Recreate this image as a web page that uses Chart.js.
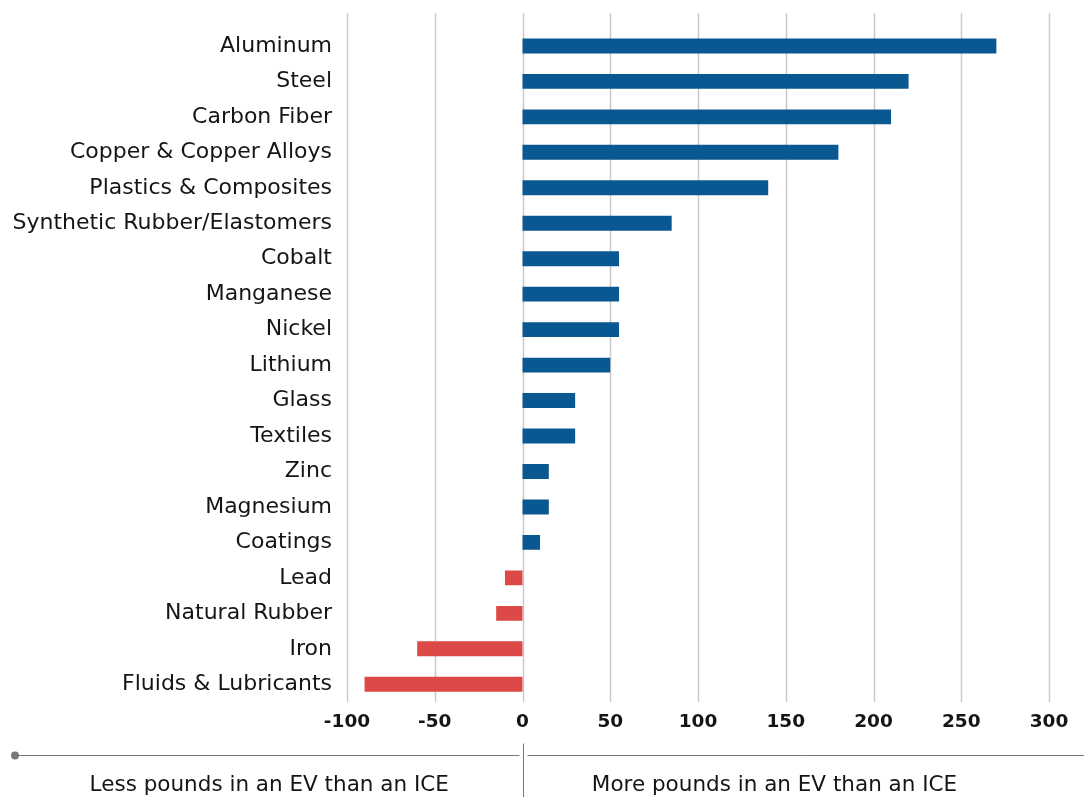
<!DOCTYPE html>
<html>
<head>
<meta charset="utf-8">
<script src="https://cdn.jsdelivr.net/npm/chart.js@4"></script>
<style>
  html, body { margin: 0; padding: 0; background: #fff; }
  #wrap { width: 1084px; height: 797px; }
</style>
</head>
<body>
<div id="wrap"><canvas id="chart" width="1084" height="797"></canvas></div>
<script>
const categories = [
    'Aluminum', 'Steel', 'Carbon Fiber', 'Copper & Copper Alloys', 'Plastics & Composites',
    'Synthetic Rubber/Elastomers', 'Cobalt', 'Manganese', 'Nickel', 'Lithium', 'Glass',
    'Textiles', 'Zinc', 'Magnesium', 'Coatings', 'Lead', 'Natural Rubber', 'Iron',
    'Fluids & Lubricants'
];
const poundsDiff = [270, 220, 210, 180, 140, 85, 55, 55, 55, 50, 30, 30, 15, 15, 10, -10, -15, -60, -90];
const xTicks = [-100, -50, 0, 50, 100, 150, 200, 250, 300];
const sideLabels = ['Less pounds in an EV than an ICE', 'More pounds in an EV than an ICE'];

const COLORS = {
    more: 'rgb(10, 88, 145)',
    less: 'rgb(220, 73, 71)',
    grid: '#c9c9c9',
    rule: '#777777',
    text: '#151515'
};
const FONT = '"DejaVu Sans", sans-serif';

// vertical grid lines, drawn a bit above the plot like the original
const gridPlugin = {
    id: 'tallGrid',
    beforeDatasetsDraw(chart) {
        const {ctx, chartArea, scales: {x}} = chart;
        ctx.save();
        ctx.strokeStyle = COLORS.grid;
        ctx.lineWidth = 1.5;
        for (const v of xTicks) {
            const px = Math.round(x.getPixelForValue(v)) + 0.5;
            ctx.beginPath();
            ctx.moveTo(px, chartArea.top - 15);
            ctx.lineTo(px, chartArea.bottom);
            ctx.stroke();
        }
        ctx.restore();
    }
};

// rule + labels under the axis
const sidesPlugin = {
    id: 'sides',
    afterDraw(chart) {
        const {ctx, chartArea, scales: {x}} = chart;
        const zero = Math.round(x.getPixelForValue(0)) + 0.5;
        const ruleY = chartArea.bottom + 53.5;
        ctx.save();
        ctx.strokeStyle = COLORS.rule;
        ctx.fillStyle = COLORS.rule;
        ctx.lineWidth = 1;
        ctx.beginPath();
        ctx.moveTo(15, ruleY);
        ctx.lineTo(zero - 4, ruleY);
        ctx.moveTo(zero + 4, ruleY);
        ctx.lineTo(chart.width, ruleY);
        ctx.moveTo(zero, ruleY - 12);
        ctx.lineTo(zero, chart.height);
        ctx.stroke();
        ctx.beginPath();
        ctx.arc(15, ruleY, 4, 0, Math.PI * 2);
        ctx.fill();

        ctx.fillStyle = COLORS.text;
        ctx.font = '21.5px ' + FONT;
        ctx.textAlign = 'center';
        ctx.textBaseline = 'middle';
        ctx.fillText(sideLabels[0], (15 + zero) / 2, ruleY + 30);
        ctx.fillText(sideLabels[1], zero + 251, ruleY + 30);
        ctx.restore();
    }
};

new Chart(document.getElementById('chart'), {
    type: 'bar',
    data: {
        labels: categories,
        datasets: [{
            data: poundsDiff,
            backgroundColor: poundsDiff.map(v => v < 0 ? COLORS.less : COLORS.more),
            barPercentage: 0.42,
            categoryPercentage: 1.0
        }]
    },
    options: {
        indexAxis: 'y',
        responsive: false,
        animation: false,
        layout: {
            padding: {left: 0, right: 35, top: 28, bottom: 0}
        },
        plugins: {
            legend: {display: false},
            tooltip: {enabled: false}
        },
        scales: {
            x: {
                min: -100,
                max: 300,
                grid: {display: false, drawTicks: false},
                border: {display: false},
                afterBuildTicks: (scale) => {
                    scale.ticks = xTicks.map(v => ({value: v}));
                },
                afterFit: (scale) => {
                    scale.height = 95;
                },
                ticks: {
                    padding: 9,
                    color: COLORS.text,
                    font: {family: FONT, size: 18.5, weight: '600'}
                }
            },
            y: {
                grid: {display: false, drawTicks: false},
                border: {display: false},
                afterFit: (scale) => {
                    scale.width = 347;
                },
                ticks: {
                    padding: 15,
                    color: COLORS.text,
                    font: {family: FONT, size: 22}
                }
            }
        }
    },
    plugins: [gridPlugin, sidesPlugin]
});
</script>
</body>
</html>
